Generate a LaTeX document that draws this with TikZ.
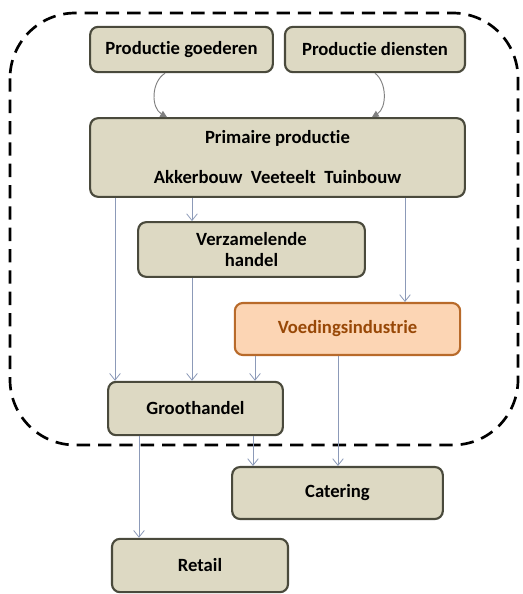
\documentclass[tikz,border=0pt]{standalone}
\usepackage{fontspec}
\setmainfont{Carlito}[Ligatures=NoCommon]
\usepackage{tikz}
\usetikzlibrary{arrows.meta}
\usepackage{xcolor}
\definecolor{boxfill}{HTML}{DDD9C3}
\definecolor{boxline}{HTML}{4A4A3C}
\definecolor{orfill}{HTML}{FCD5B4}
\definecolor{orline}{HTML}{B86A2A}
\definecolor{ortext}{HTML}{984807}
\definecolor{flowline}{HTML}{8C9AB8}

\begin{document}
\begin{tikzpicture}[x=0.75pt,y=-0.75pt,font=\fontsize{14}{16}\selectfont\bfseries,
  blok/.style={draw=boxline,fill=boxfill,line width=1.6pt,rounded corners=6pt,align=center,inner sep=0pt},
  oranje/.style={blok,draw=orline,fill=orfill,text=ortext},
  flow/.style={draw=flowline,line width=0.6pt,-{Straight Barb[length=5pt,width=8pt]}},
  bocht/.style={draw=gray,line width=0.7pt,-{Triangle[length=5pt,width=5pt]}}]
\useasboundingbox (0,0) rectangle (523,594);
\draw[line width=2pt,dash pattern=on 10pt off 6pt,rounded corners=49pt] (10,13) rectangle (518,445);
\node[blok,minimum width=137pt,minimum height=34pt] (goederen) at (181.5,49.5) {Productie goederen};
\node[blok,minimum width=135pt,minimum height=34pt] (diensten) at (375,49.5) {Productie diensten};
\node[blok,minimum width=281pt,minimum height=59pt] (primair) at (277.5,157.5) {Primaire productie\\[14pt]Akkerbouw\ \ Veeteelt\ \ Tuinbouw};
\node[blok,minimum width=170pt,minimum height=41pt] (verzamel) at (251.5,249.5) {Verzamelende\\handel};
\node[oranje,minimum width=169pt,minimum height=39pt] (voeding) at (347.5,329) {Voedingsindustrie};
\node[blok,minimum width=131pt,minimum height=40pt] (groot) at (195.5,408.5) {Groothandel};
\node[blok,minimum width=158pt,minimum height=39pt] (catering) at (337.5,493) {Catering};
\node[blok,minimum width=132pt,minimum height=40pt] (retail) at (200,565.5) {Retail};
\draw[bocht] (goederen.south -| 165,0) .. controls (151,82) and (151,108) .. (primair.north -| 167,0);
\draw[bocht] (diensten.south -| 375,0) .. controls (387,82) and (387,108) .. (primair.north -| 372,0);
\draw[flow] (primair.south -| 115,0) -- (groot.north -| 115,0);
\draw[flow] (primair.south -| 192,0) -- (verzamel.north -| 192,0);
\draw[flow] (primair.south -| 405,0) -- (voeding.north -| 405,0);
\draw[flow] (verzamel.south -| 192,0) -- (groot.north -| 192,0);
\draw[flow] (voeding.south -| 255,0) -- (groot.north -| 255,0);
\draw[flow] (voeding.south -| 338,0) -- (catering.north -| 338,0);
\draw[flow] (groot.south -| 253,0) -- (catering.north -| 253,0);
\draw[flow] (groot.south -| 139,0) -- (retail.north -| 139,0);
\end{tikzpicture}
\end{document}
